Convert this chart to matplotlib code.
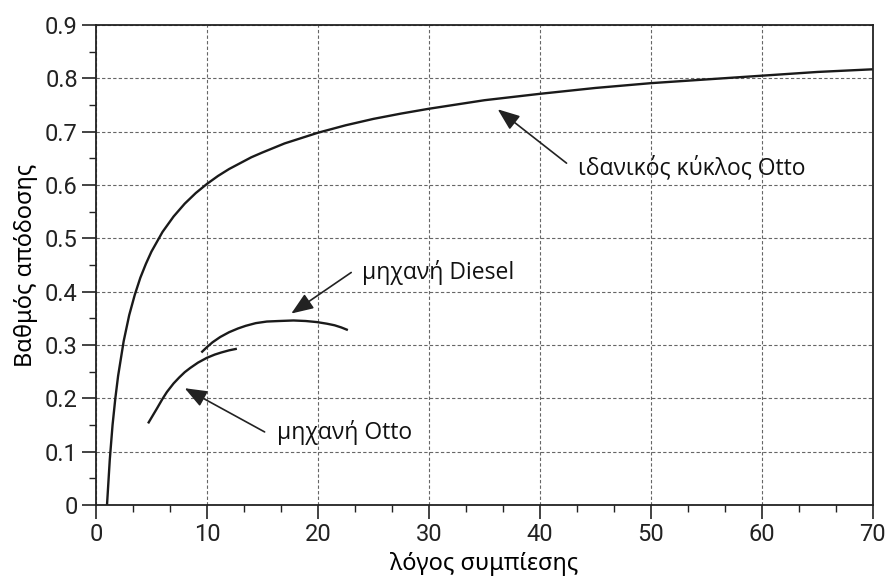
import matplotlib
matplotlib.use("Agg")
import matplotlib.pyplot as plt
from matplotlib.ticker import MultipleLocator, AutoMinorLocator

# values
ideal_r = [1, 1.25, 1.5, 1.75, 2, 2.5, 3, 3.5, 4, 4.5, 5, 6, 7, 8, 9, 10, 11,
           12, 13, 14, 15, 17, 20, 22.5, 25, 27.5, 30, 35, 40, 45, 50, 55, 60,
           65, 70]
ideal_eff = [0.0, 0.085, 0.150, 0.200, 0.242, 0.307, 0.356, 0.394, 0.426,
             0.452, 0.475, 0.512, 0.541, 0.565, 0.585, 0.602, 0.617, 0.630,
             0.641, 0.652, 0.661, 0.678, 0.698, 0.712, 0.724, 0.734, 0.743,
             0.759, 0.771, 0.782, 0.791, 0.798, 0.805, 0.812, 0.817]

otto_r = [4.7, 5.1, 5.5, 6.0, 6.4, 7.0, 7.5, 8.0, 8.5, 9.2, 10, 10.7, 11.3,
          12.0, 12.7]
otto_eff = [0.153, 0.167, 0.181, 0.199, 0.212, 0.228, 0.239, 0.249, 0.257,
            0.267, 0.276, 0.282, 0.286, 0.290, 0.293]

diesel_r = [9.5, 10.0, 10.5, 11.2, 12.0, 12.8, 13.5, 14.4, 15.4, 16.5, 17.8,
            18.9, 19.9, 20.8, 21.5, 22.1, 22.7]
diesel_eff = [0.286, 0.296, 0.305, 0.315, 0.324, 0.331, 0.336, 0.341, 0.344,
              0.345, 0.346, 0.345, 0.343, 0.340, 0.337, 0.333, 0.328]

labels = ["ιδανικός κύκλος Otto", "μηχανή Diesel", "μηχανή Otto"]
arrow_heads = [(36.2, 0.742), (17.6, 0.359), (8.0, 0.219)]
arrow_tails = [(42.4, 0.641), (23.0, 0.436), (15.2, 0.137)]
text_pos = [(43.4, 0.632), (24.0, 0.436), (16.3, 0.136)]

fig = plt.figure(figsize=(8.88, 5.78), dpi=100)
ax = fig.add_axes([0.108, 0.1263, 0.875, 0.8304])

for r, e in [(ideal_r, ideal_eff), (otto_r, otto_eff), (diesel_r, diesel_eff)]:
    ax.plot(r, e, color="#1a1a1a", lw=1.7, solid_capstyle="butt")

ax.set_xlim(0, 70)
ax.set_ylim(0, 0.9)
ax.xaxis.set_major_locator(MultipleLocator(10))
ax.xaxis.set_minor_locator(AutoMinorLocator(3))
ax.yaxis.set_major_locator(MultipleLocator(0.1))
ax.yaxis.set_minor_locator(AutoMinorLocator(2))
ax.yaxis.set_major_formatter(plt.FuncFormatter(lambda v, p: "0" if abs(v) < 1e-9 else f"{v:.1f}"))

ax.grid(True, which="major", color="#666666", ls=(0, (3, 2)), lw=0.8)
ax.tick_params(which="major", length=10, width=1.2, color="#222222",
               labelsize=17, labelcolor="#222222", pad=3)
ax.tick_params(which="minor", length=5, width=1.0, color="#222222")
for lab in ax.get_xticklabels() + ax.get_yticklabels():
    lab.set_family("Roboto")
for s in ax.spines.values():
    s.set_linewidth(1.3)
    s.set_color("#222222")

ax.set_xlabel("λόγος συμπίεσης", fontsize=17, family="Noto Sans", labelpad=4)
ax.set_ylabel("Βαθμός απόδοσης", fontsize=17, family="Noto Sans", labelpad=5)

for lab, head, tail, tp in zip(labels, arrow_heads, arrow_tails, text_pos):
    ax.annotate("", xy=head, xytext=tail,
                arrowprops=dict(arrowstyle="-|>,head_length=0.9,head_width=0.35",
                                color="#222222", lw=1.2, shrinkA=0, shrinkB=0,
                                mutation_scale=15))
    ax.text(tp[0], tp[1], lab, fontsize=16.5, family="Open Sans",
            ha="left", va="center", color="#111111")

fig.savefig("out.png", dpi=100)
